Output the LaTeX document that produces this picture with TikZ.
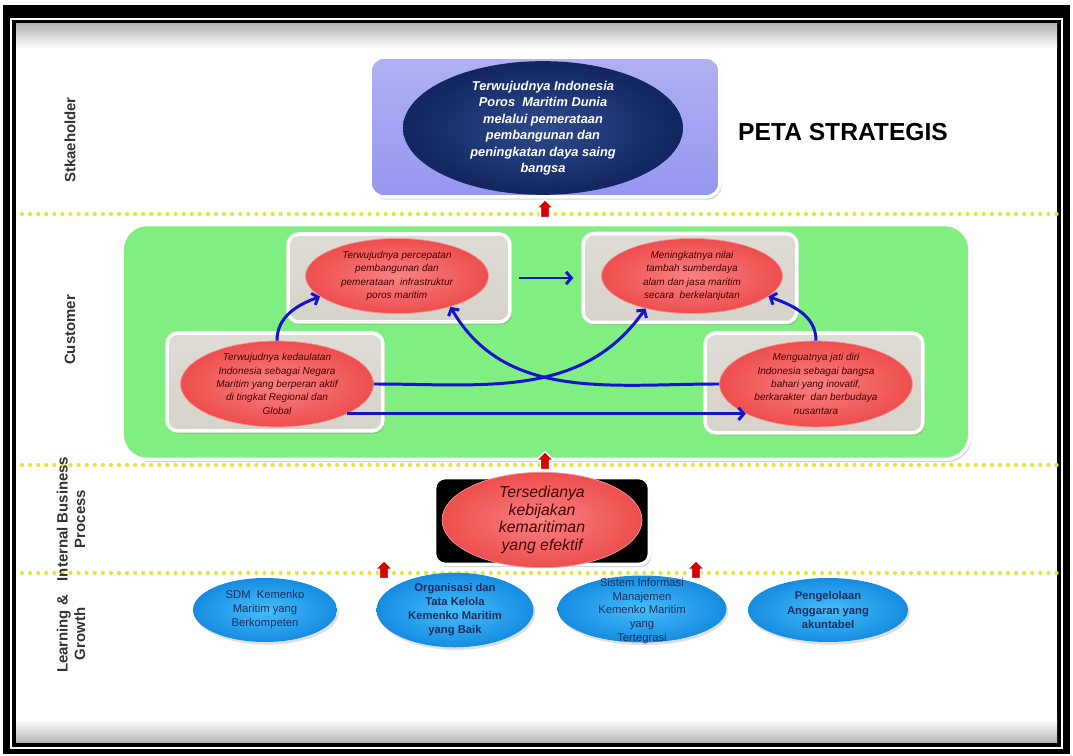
\documentclass[tikz,border=0pt]{standalone}
\usepackage{fontspec}
\setmainfont{Liberation Sans}
\usetikzlibrary{shapes.geometric,shapes.arrows,shadows,arrows.meta}
\definecolor{sepyellow}{RGB}{228,228,60}
\definecolor{stakeblue}{RGB}{150,150,240}
\definecolor{custgreen}{RGB}{128,238,128}
\definecolor{boxgray}{RGB}{214,211,202}
\definecolor{ovalred}{RGB}{238,78,78}
\definecolor{ovalredin}{RGB}{248,130,130}
\definecolor{ovaltext}{RGB}{70,0,0}
\definecolor{navyout}{RGB}{18,38,96}
\definecolor{navyin}{RGB}{46,74,140}
\definecolor{skyout}{RGB}{22,140,225}
\definecolor{skyin}{RGB}{70,190,250}
\definecolor{skytext}{RGB}{25,45,95}
\definecolor{arrblue}{RGB}{20,20,205}
\begin{document}
\begin{tikzpicture}[x=0.02cm, y=-0.02cm,
  lane/.style={rotate=90, align=center, font=\bfseries\fontsize{8.5}{10}\selectfont, text=black!80},
  sepline/.style={draw=sepyellow, line width=2.4pt, line cap=round, dash pattern=on 0pt off 4.6pt},
  panel/.style={draw=white, line width=2pt, rounded corners=0.3cm, drop shadow={opacity=0.35, shadow xshift=1pt, shadow yshift=-1.5pt}},
  graybox/.style={panel, rounded corners=0.22cm, top color=boxgray!80!white, bottom color=boxgray},
  redoval/.style={ellipse, inner sep=0pt, draw=ovalred!60!white, line width=0.4pt, inner color=ovalredin, outer color=ovalred, text=ovaltext, align=center, font=\itshape\fontsize{5.7}{7.6}\selectfont},
  blueoval/.style={ellipse, inner sep=0pt, inner color=skyin, outer color=skyout, text=skytext, align=center, font=\fontsize{6.4}{8}\selectfont, drop shadow={opacity=0.25, shadow xshift=1pt, shadow yshift=-1.5pt}},
  bluearr/.style={draw=arrblue, line width=1.7pt, -{Straight Barb[length=3pt,width=7pt]}},
  upred/.style={single arrow, shape border rotate=90, fill=red!85!black, draw=white, line width=0.8pt, inner sep=1.6pt, minimum height=0.36cm, minimum width=0.34cm, single arrow head extend=0.06cm, single arrow tip angle=90}
]
\useasboundingbox (0,0) rectangle (1073,756);
% frame
\fill[black] (3,5) rectangle (1070,754);
\fill[white] (10,18) rectangle (1063,749);
\fill[black] (12,20) rectangle (1061,747);
\fill[white] (16,24) rectangle (1057,743);
\shade[top color=black!30, bottom color=white] (16,24) rectangle (1057,48);
\shade[top color=white, bottom color=black!30] (16,720) rectangle (1057,743);

% lanes
\draw[sepline] (22,214) -- (1057,214);
\draw[sepline] (22,465) -- (1057,465);
\draw[sepline] (22,573) -- (1057,573);
\node[lane] (lstake) at (70,140) {Stkaeholder};
\node[lane] (lcust) at (70,330) {Customer};
\node[lane] (libp) at (71,519) {Internal Business\\Process};
\node[lane] (llg) at (71,634) {Learning \&\\Growth};

% stakeholder
\node[panel, rounded corners=0.28cm, top color=stakeblue!75!white, bottom color=stakeblue, minimum width=7cm, minimum height=2.8cm] (stake) at (545,127) {};
\node[ellipse, inner sep=0pt, inner color=navyin, outer color=navyout, minimum width=5.6cm, minimum height=2.46cm, text=white, align=center, font=\bfseries\itshape\fontsize{7.3}{9.4}\selectfont] (vision) at (543,128) {Terwujudnya Indonesia\\Poros~~Maritim Dunia\\melalui pemerataan\\pembangunan dan\\peningkatan daya saing\\bangsa};
\node[font=\bfseries\fontsize{14}{16}\selectfont] (title) at (843,132) {PETA STRATEGIS};

% customer
\node[panel, rounded corners=0.5cm, fill=custgreen, minimum width=16.96cm, minimum height=4.7cm] (cust) at (546,342) {};
\node[graybox, minimum width=4.44cm, minimum height=1.76cm] (tlbox) at (399,278) {};
\node[graybox, minimum width=4.28cm, minimum height=1.78cm] (trbox) at (690,278) {};
\node[graybox, minimum width=4.32cm, minimum height=1.96cm] (blbox) at (275,382) {};
\node[graybox, minimum width=4.36cm, minimum height=2cm] (brbox) at (814,383) {};
\node[redoval, minimum width=3.66cm, minimum height=1.5cm] (tl) at (397,276) {Terwujudnya percepatan\\pembangunan dan\\pemerataan~ infrastruktur\\poros maritim};
\node[redoval, minimum width=3.62cm, minimum height=1.5cm] (tr) at (692,276) {Meningkatnya nilai\\tambah sumberdaya\\alam dan jasa maritim\\secara~ berkelanjutan};
\node[redoval, minimum width=3.86cm, minimum height=1.64cm] (bl) at (277,384) {Terwujudnya kedaulatan\\Indonesia sebagai Negara\\Maritim yang berperan aktif\\di tingkat Regional dan\\Global};
\node[redoval, minimum width=3.86cm, minimum height=1.64cm] (br) at (816,384) {Menguatnya jati diri\\Indonesia sebagai bangsa\\bahari yang inovatif,\\berkarakter~ dan berbudaya\\nusantara};
\draw[bluearr] (bl.north) to[out=90, in=200] (tl.195);
\draw[bluearr] (br.north) to[out=90, in=-20] (tr.-15);
\draw[bluearr, shorten <=7pt/1.76, shorten >=8pt/1.76] (tlbox.east) -- (trbox.west);
\draw[bluearr] (bl.east) to[out=0, in=235] (tr.215);
\draw[bluearr] (br.west) to[out=180, in=-60] (tl.330);
\draw[bluearr] (bl.-23) -- (br.203);

% internal business process
\node[panel, rounded corners=0.22cm, fill=black, minimum width=4.3cm, minimum height=1.74cm] (ibpbox) at (542,521) {};
\node[redoval, minimum width=4cm, minimum height=1.54cm, font=\itshape\fontsize{9}{10}\selectfont] (ibp) at (542,520) {Tersedianya\\kebijakan\\kemaritiman\\yang efektif};

% learning and growth
\node[blueoval, minimum width=2.88cm, minimum height=1.28cm] (lg1) at (265,610) {SDM~~Kemenko\\Maritim yang\\Berkompeten};
\node[blueoval, minimum width=3.14cm, minimum height=1.32cm, font=\bfseries\fontsize{6.4}{8}\selectfont] (lg2) at (455,610) {Organisasi dan\\Tata Kelola\\Kemenko Maritim\\yang Baik};
\node[blueoval, minimum width=3.38cm, minimum height=1.34cm] (lg3) at (642,609) {};
\node[text=skytext, align=center, font=\fontsize{6.4}{7.9}\selectfont] (lg3txt) at (642,611) {Sistem Informasi\\Manajemen\\Kemenko Maritim\\yang\\Tertegrasi};
\node[blueoval, minimum width=3.2cm, minimum height=1.28cm, font=\bfseries\fontsize{6.4}{8}\selectfont] (lg4) at (828,610) {Pengelolaan\\Anggaran yang\\akuntabel};

% red up arrows
\node[upred] (up1) at (545,211) {};
\node[upred] (up2) at (545,463) {};
\node[upred] (up3) at (384,572) {};
\node[upred] (up4) at (696,572) {};
\end{tikzpicture}
\end{document}
